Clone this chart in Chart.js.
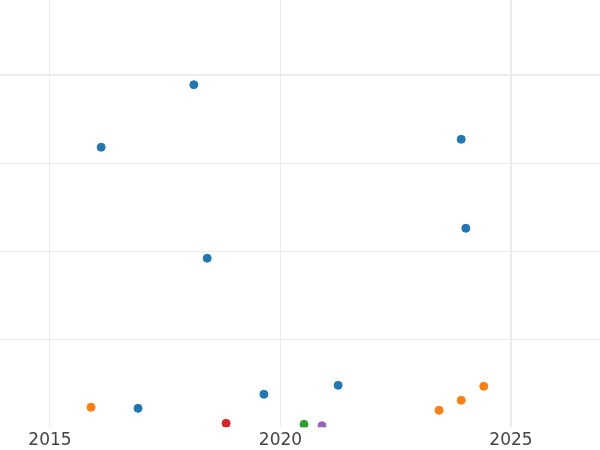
<!DOCTYPE html>
<html>
<head>
<meta charset="utf-8">
<script src="https://cdn.jsdelivr.net/npm/chart.js@4"></script>
<style>
  html, body { margin: 0; padding: 0; background: #fff; }
  #wrap { width: 600px; height: 450px; }
</style>
</head>
<body>
<div id="wrap"><canvas id="chart"></canvas></div>
<script>
// data
const blueX = [2016.11, 2018.12, 2018.41, 2016.91, 2019.64, 2021.25, 2023.92, 2024.02];
const blueY = [3.18, 3.89, 1.92, 0.216, 0.375, 0.477, 3.27, 2.26];
const orangeX = [2015.89, 2023.44, 2023.92, 2024.41];
const orangeY = [0.227, 0.193, 0.307, 0.466];
const greenX = [2020.51];
const greenY = [0.034];
const redX = [2018.82];
const redY = [0.045];
const purpleX = [2020.90];
const purpleY = [0.018];

const xTicks = [2015, 2020, 2025];
const yTicks = [1, 2, 3, 4];

const toPoints = (xs, ys) => xs.map((x, i) => ({x: x, y: ys[i]}));

const makeSet = (xs, ys, color) => ({
  data: toPoints(xs, ys),
  backgroundColor: color,
  borderColor: color,
  pointRadius: 4,
  pointBorderWidth: 1,
  clip: 0
});

const gridColor = '#ebebeb';

new Chart(document.getElementById('chart'), {
  type: 'scatter',
  data: {
    datasets: [
      makeSet(blueX, blueY, '#1f77b4'),
      makeSet(orangeX, orangeY, '#ff7f0e'),
      makeSet(greenX, greenY, '#2ca02c'),
      makeSet(redX, redY, '#d62728'),
      makeSet(purpleX, purpleY, '#9467bd')
    ]
  },
  options: {
    responsive: true,
    maintainAspectRatio: false,
    animation: false,
    events: [],
    layout: { padding: { top: 0, left: 0, right: 0, bottom: -4 }, autoPadding: false },
    plugins: {
      legend: { display: false },
      tooltip: { enabled: false }
    },
    scales: {
      x: {
        type: 'linear',
        min: 2013.9154,
        max: 2026.9306,
        afterBuildTicks: axis => { axis.ticks = xTicks.map(v => ({value: v})); },
        border: { display: false },
        grid: {
          color: gridColor,
          drawTicks: false,
          lineWidth: ctx => (ctx.tick && ctx.tick.value === 2025 ? 2 : 1)
        },
        ticks: {
          padding: 4,
          color: '#444',
          maxRotation: 0,
          font: { family: 'DejaVu Sans', size: 17, lineHeight: 1.1 },
          callback: v => String(v)
        }
      },
      y: {
        type: 'linear',
        min: 0,
        max: 4.852,
        afterBuildTicks: axis => { axis.ticks = yTicks.map(v => ({value: v})); },
        border: { display: false },
        grid: {
          color: gridColor,
          drawTicks: false,
          lineWidth: ctx => (ctx.tick && ctx.tick.value === 4 ? 2 : 1)
        },
        ticks: { display: false }
      }
    }
  }
});
</script>
</body>
</html>
